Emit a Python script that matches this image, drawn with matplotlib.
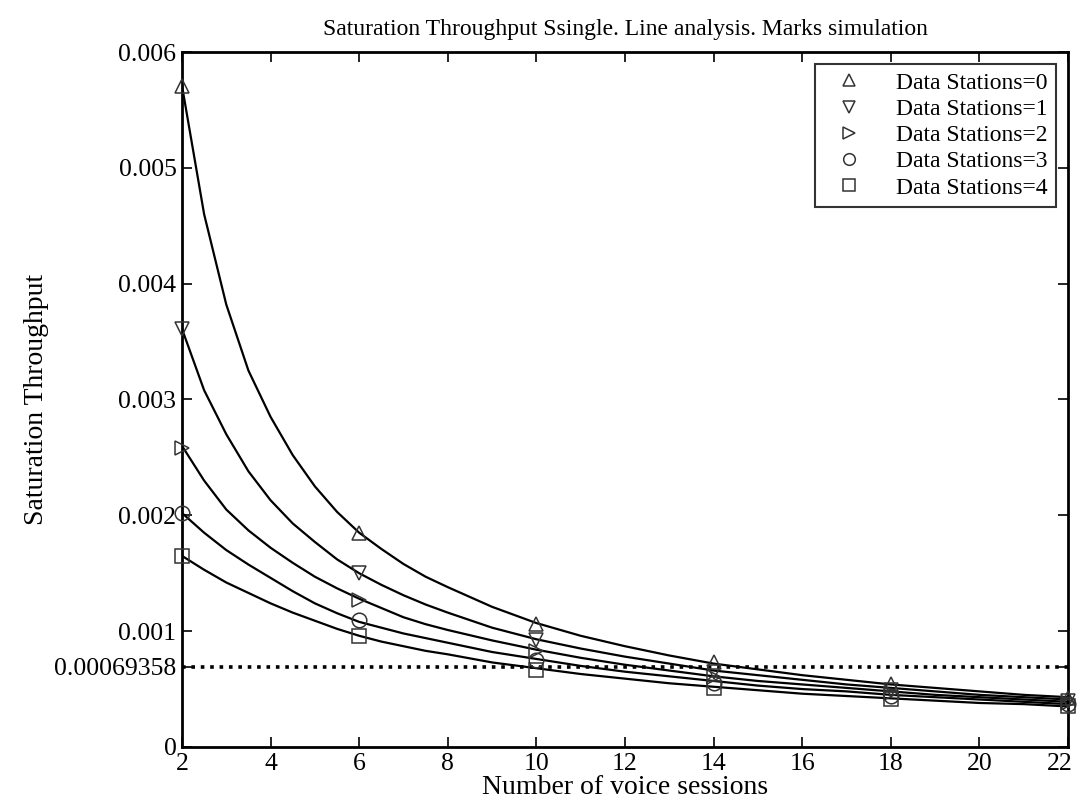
import matplotlib
matplotlib.use("Agg")
import matplotlib.pyplot as plt
import matplotlib.transforms as mtransforms

plt.rcParams['font.family'] = ['Liberation Serif', 'DejaVu Serif']

# Analysis curves (lines)
x_line = [2, 2.5, 3, 3.5, 4, 4.5, 5, 5.5, 6, 6.5, 7, 7.5, 8,
          9, 10, 11, 12, 13, 14, 15, 16, 17, 18, 19, 20, 21, 22]
ana_ds0 = [5.71, 4.60, 3.82, 3.25, 2.85, 2.52, 2.25, 2.03, 1.85, 1.71, 1.58, 1.47, 1.38,
           1.21, 1.07, 0.96, 0.87, 0.79, 0.72, 0.67, 0.62, 0.58, 0.54, 0.51, 0.48, 0.45, 0.43]
ana_ds1 = [3.61, 3.08, 2.70, 2.38, 2.13, 1.93, 1.77, 1.62, 1.50, 1.40, 1.31, 1.23, 1.16,
           1.03, 0.93, 0.85, 0.78, 0.72, 0.66, 0.62, 0.58, 0.54, 0.51, 0.48, 0.45, 0.43, 0.41]
ana_ds2 = [2.60, 2.30, 2.05, 1.87, 1.72, 1.59, 1.47, 1.37, 1.28, 1.20, 1.12, 1.06, 1.01,
           0.92, 0.84, 0.77, 0.71, 0.66, 0.61, 0.57, 0.54, 0.51, 0.48, 0.45, 0.43, 0.41, 0.39]
ana_ds3 = [2.02, 1.85, 1.70, 1.575, 1.46, 1.345, 1.24, 1.155, 1.08, 1.03, 0.98, 0.94, 0.90,
           0.82, 0.76, 0.70, 0.65, 0.61, 0.57, 0.53, 0.50, 0.48, 0.45, 0.43, 0.41, 0.39, 0.37]
ana_ds4 = [1.65, 1.53, 1.42, 1.33, 1.24, 1.16, 1.09, 1.02, 0.96, 0.91, 0.87, 0.83, 0.80,
           0.73, 0.68, 0.63, 0.59, 0.55, 0.52, 0.49, 0.46, 0.44, 0.42, 0.40, 0.38, 0.37, 0.35]

# Simulation marks
x_sim = [2, 6, 10, 14, 18, 22]
sim_ds0 = [5.71, 1.85, 1.06, 0.73, 0.54, 0.42]
sim_ds1 = [3.61, 1.50, 0.92, 0.65, 0.49, 0.40]
sim_ds2 = [2.58, 1.27, 0.83, 0.60, 0.47, 0.38]
sim_ds3 = [2.02, 1.10, 0.75, 0.55, 0.44, 0.37]
sim_ds4 = [1.65, 0.96, 0.665, 0.51, 0.41, 0.35]

labels = ['Data Stations=0', 'Data Stations=1', 'Data Stations=2',
          'Data Stations=3', 'Data Stations=4']
markers = ['^', 'v', '>', 'o', 's']
threshold = 0.00069358

x_ticks = [2, 4, 6, 8, 10, 12, 14, 16, 18, 20, 22]
y_ticks = [0, threshold, 0.001, 0.002, 0.003, 0.004, 0.005, 0.006]
y_ticklabels = ['0', '0.00069358', '0.001', '0.002', '0.003', '0.004', '0.005', '0.006']

fig = plt.figure(figsize=(10.78, 8.10), dpi=100)
ax = fig.add_axes([0.1688, 0.0778, 0.8219, 0.858])

anas = [ana_ds0, ana_ds1, ana_ds2, ana_ds3, ana_ds4]
sims = [sim_ds0, sim_ds1, sim_ds2, sim_ds3, sim_ds4]
scale = 1e-3
for ana, sim, m, lab in zip(anas, sims, markers, labels):
    ax.plot(x_line, [v * scale for v in ana], color='black', lw=1.6, zorder=3)
    ax.plot(x_sim, [v * scale for v in sim], linestyle='none', marker=m,
            markersize=10.5, markerfacecolor='none', markeredgecolor='#333333',
            markeredgewidth=1.1, label=lab, clip_on=False, zorder=4)

ax.axhline(threshold, color='black', linestyle=(0, (1, 1.6)), lw=2.6, zorder=2)

ax.set_xlim(2, 22)
ax.set_ylim(0, 0.006)
ax.set_xticks(x_ticks)
ax.set_xticklabels([str(t) for t in x_ticks])
ax.set_yticks(y_ticks)
ax.set_yticklabels(y_ticklabels)
ax.tick_params(direction='in', top=True, right=True, labelsize=18.5,
               length=7, width=1.2, pad=4)
for sp in ax.spines.values():
    sp.set_linewidth(2)

# keep the last x tick label inside the figure
last = ax.get_xticklabels()[-1]
last.set_transform(last.get_transform() +
                   mtransforms.ScaledTranslation(-8 / 100, 0, fig.dpi_scale_trans))

ax.set_xlabel('Number of voice sessions', fontsize=20, labelpad=0)
ax.set_ylabel('Saturation Throughput', fontsize=20, labelpad=4)
ax.set_title('Saturation Throughput Ssingle. Line analysis. Marks simulation',
             fontsize=17, pad=12)

leg = ax.legend(loc='upper right', fontsize=17, frameon=True, fancybox=False,
                edgecolor='black', borderaxespad=0.5, handletextpad=0.9,
                labelspacing=0.2, markerscale=0.8, handlelength=2.2,
                borderpad=0.35)
leg.get_frame().set_linewidth(1.5)

fig.savefig('out.png', dpi=100)
